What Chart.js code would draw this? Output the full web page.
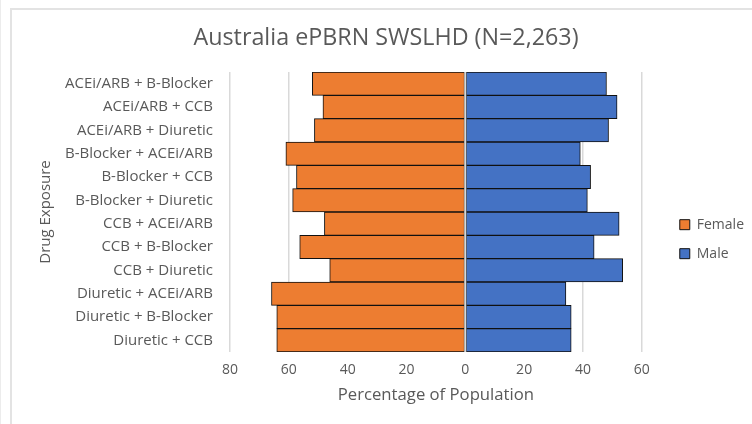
<!DOCTYPE html>
<html>
<head>
<meta charset="utf-8">
<script src="https://cdn.jsdelivr.net/npm/chart.js@4.4.0/dist/chart.umd.min.js"></script>
<style>
    body { margin: 0; background: #fff; }
    #wrap { position: relative; width: 752px; height: 424px; overflow: hidden; }
    #frame { position: absolute; left: 10px; top: 8px; width: 800px; height: 500px; border: 2px solid #e3e3e3; pointer-events: none; }
    #edge { position: absolute; left: 0; top: 0; width: 1px; height: 424px; background: #ececec; }
</style>
</head>
<body>
<div id="wrap">
    <canvas id="pyramid" width="752" height="424"></canvas>
    <div id="frame"></div>
    <div id="edge"></div>
</div>
<script>
const drugPairs = [
    'ACEi/ARB + B-Blocker',
    'ACEi/ARB + CCB',
    'ACEi/ARB + Diuretic',
    'B-Blocker + ACEi/ARB',
    'B-Blocker + CCB',
    'B-Blocker + Diuretic',
    'CCB + ACEi/ARB',
    'CCB + B-Blocker',
    'CCB + Diuretic',
    'Diuretic + ACEi/ARB',
    'Diuretic + B-Blocker',
    'Diuretic + CCB'
];
const femalePct = [52.0, 48.4, 51.3, 61.0, 57.4, 58.7, 47.9, 56.3, 46.1, 65.9, 64.1, 64.1];
const malePct = [48.0, 51.6, 48.7, 39.1, 42.6, 41.5, 52.3, 43.8, 53.5, 34.2, 36.0, 36.0];

const grey = '#595959';
const gridGrey = '#d9d9d9';
const font = 'Open Sans';

// light vertical line at zero, drawn over the bars like in Excel
const zeroLine = {
    id: 'zeroLine',
    afterDatasetsDraw(chart) {
        const { ctx, chartArea, scales } = chart;
        const x = scales.x.getPixelForValue(0);
        ctx.save();
        ctx.strokeStyle = gridGrey;
        ctx.lineWidth = 2;
        ctx.beginPath();
        ctx.moveTo(x, chartArea.top);
        ctx.lineTo(x, chartArea.bottom);
        ctx.stroke();
        ctx.restore();
    }
};

const ctx = document.getElementById('pyramid');

new Chart(ctx, {
    type: 'bar',
    data: {
        labels: drugPairs,
        datasets: [{
            label: 'Female',
            data: femalePct.map(v => -v),
            backgroundColor: '#ED7D31',
            borderColor: '#111',
            borderWidth: 1,
            borderSkipped: false,
            barPercentage: 1,
            categoryPercentage: 1
        }, {
            label: 'Male',
            data: malePct,
            backgroundColor: '#4472C4',
            borderColor: '#111',
            borderWidth: 1,
            borderSkipped: false,
            barPercentage: 1,
            categoryPercentage: 1
        }]
    },
    options: {
        indexAxis: 'y',
        responsive: false,
        animation: false,
        layout: {
            padding: { left: 18, right: -2, top: 0, bottom: 14 }
        },
        scales: {
            x: {
                stacked: true,
                min: -80,
                max: 60,
                ticks: {
                    stepSize: 20,
                    color: grey,
                    padding: 10,
                    font: { family: font, size: 14 },
                    callback: v => Math.abs(v)
                },
                grid: { color: gridGrey, lineWidth: 1.5, drawTicks: false },
                border: { display: false },
                title: {
                    display: true,
                    text: 'Percentage of Population',
                    color: grey,
                    padding: { top: 4, bottom: 5 },
                    font: { family: font, size: 16.7 }
                },
                afterFit: s => { s.height = 58; }
            },
            y: {
                stacked: true,
                ticks: {
                    color: grey,
                    padding: 17,
                    font: { family: font, size: 15 }
                },
                grid: { display: false, drawTicks: false },
                border: { display: false },
                title: {
                    display: true,
                    text: 'Drug Exposure',
                    color: grey,
                    padding: { top: 19, bottom: 4 },
                    font: { family: font, size: 15 }
                },
                afterFit: s => { s.width = 212; }
            },
            spacer: {
                position: 'right',
                grid: { display: false, drawTicks: false },
                border: { display: false },
                ticks: { display: false },
                afterFit: s => { s.width = 23; }
            }
        },
        plugins: {
            title: {
                display: true,
                text: 'Australia ePBRN SWSLHD (N=2,263)',
                color: grey,
                font: { family: font, size: 23.3, weight: 'normal' },
                padding: { top: 24, bottom: 20 }
            },
            legend: {
                position: 'right',
                fullSize: false,
                title: {
                    display: true,
                    text: '',
                    padding: { top: 20, bottom: 20 }
                },
                labels: {
                    boxWidth: 10,
                    boxHeight: 10,
                    padding: 15,
                    color: grey,
                    font: { family: font, size: 14 }
                }
            },
            tooltip: { enabled: false }
        }
    },
    plugins: [zeroLine]
});
</script>
</body>
</html>
